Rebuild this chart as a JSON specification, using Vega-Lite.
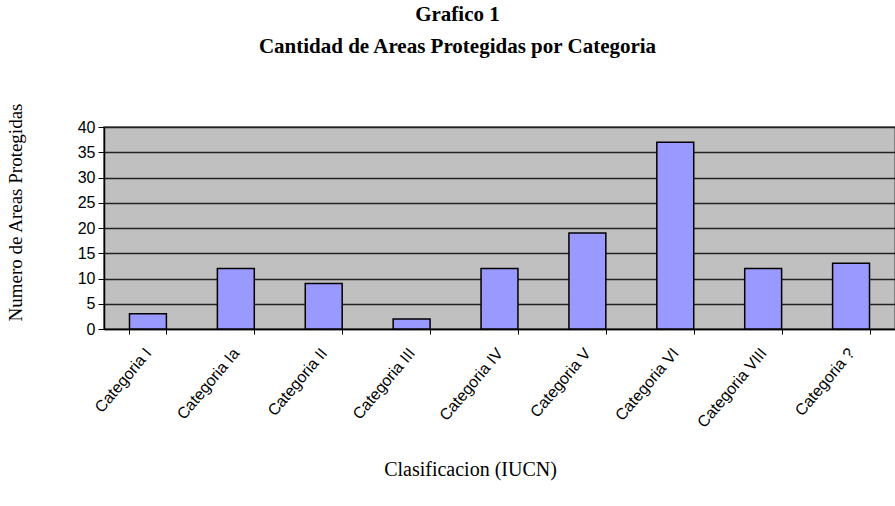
{
  "$schema": "https://vega.github.io/schema/vega-lite/v6.json",
  "autosize": "none",
  "width": 791,
  "height": 202,
  "padding": {"left": 104, "top": 127, "right": 0, "bottom": 177},
  "background": "white",
  "title": {
    "text": ["Grafico 1", "Cantidad de Areas Protegidas por Categoria"],
    "font": "Liberation Serif",
    "fontSize": 21,
    "fontWeight": "bold",
    "color": "black",
    "anchor": "middle",
    "dx": -42,
    "offset": 46,
    "lineHeight": 32
  },
  "data": {
    "values": [
      {"categoria": "Categoria I", "n": 3},
      {"categoria": "Categoria Ia", "n": 12},
      {"categoria": "Categoria II", "n": 9},
      {"categoria": "Categoria III", "n": 2},
      {"categoria": "Categoria IV", "n": 12},
      {"categoria": "Categoria V", "n": 19},
      {"categoria": "Categoria VI", "n": 37},
      {"categoria": "Categoria VIII", "n": 12},
      {"categoria": "Categoria ?", "n": 13}
    ]
  },
  "mark": {"type": "bar", "color": "#9999FF", "stroke": "black", "strokeWidth": 1.5},
  "encoding": {
    "x": {
      "field": "categoria",
      "type": "nominal",
      "sort": null,
      "scale": {"paddingInner": 0.58, "paddingOuter": 0.29},
      "axis": {
        "title": "Clasificacion (IUCN)",
        "titleFont": "Liberation Serif",
        "titleFontSize": 20,
        "titleFontWeight": "normal",
        "titleColor": "black",
        "titleX": 366,
        "titleY": 130,
        "labelAngle": -50,
        "labelFont": "Liberation Sans",
        "labelFontSize": 16,
        "labelColor": "black",
        "labelPadding": 16,
        "domainColor": "black",
        "domainWidth": 1.5,
        "tickColor": "black",
        "tickSize": 5,
        "tickBand": "extent",
        "grid": false
      }
    },
    "y": {
      "field": "n",
      "type": "quantitative",
      "scale": {"domain": [0, 40], "nice": false},
      "axis": {
        "values": [0, 5, 10, 15, 20, 25, 30, 35, 40],
        "title": "Numero de Areas Protegidas",
        "titleFont": "Liberation Serif",
        "titleFontSize": 19,
        "titleFontWeight": "normal",
        "titleColor": "black",
        "titleX": -89,
        "titleY": 85,
        "titleAnchor": "middle",
        "titleBaseline": "middle",
        "labelFont": "Liberation Sans",
        "labelFontSize": 16,
        "labelColor": "black",
        "labelPadding": 3,
        "domainColor": "black",
        "domainWidth": 1.5,
        "tickColor": "black",
        "tickSize": 6,
        "grid": true,
        "gridColor": "#222222",
        "gridWidth": 1.5
      }
    }
  },
  "config": {
    "view": {"fill": "#C0C0C0", "stroke": "#808080", "strokeWidth": 2}
  }
}
